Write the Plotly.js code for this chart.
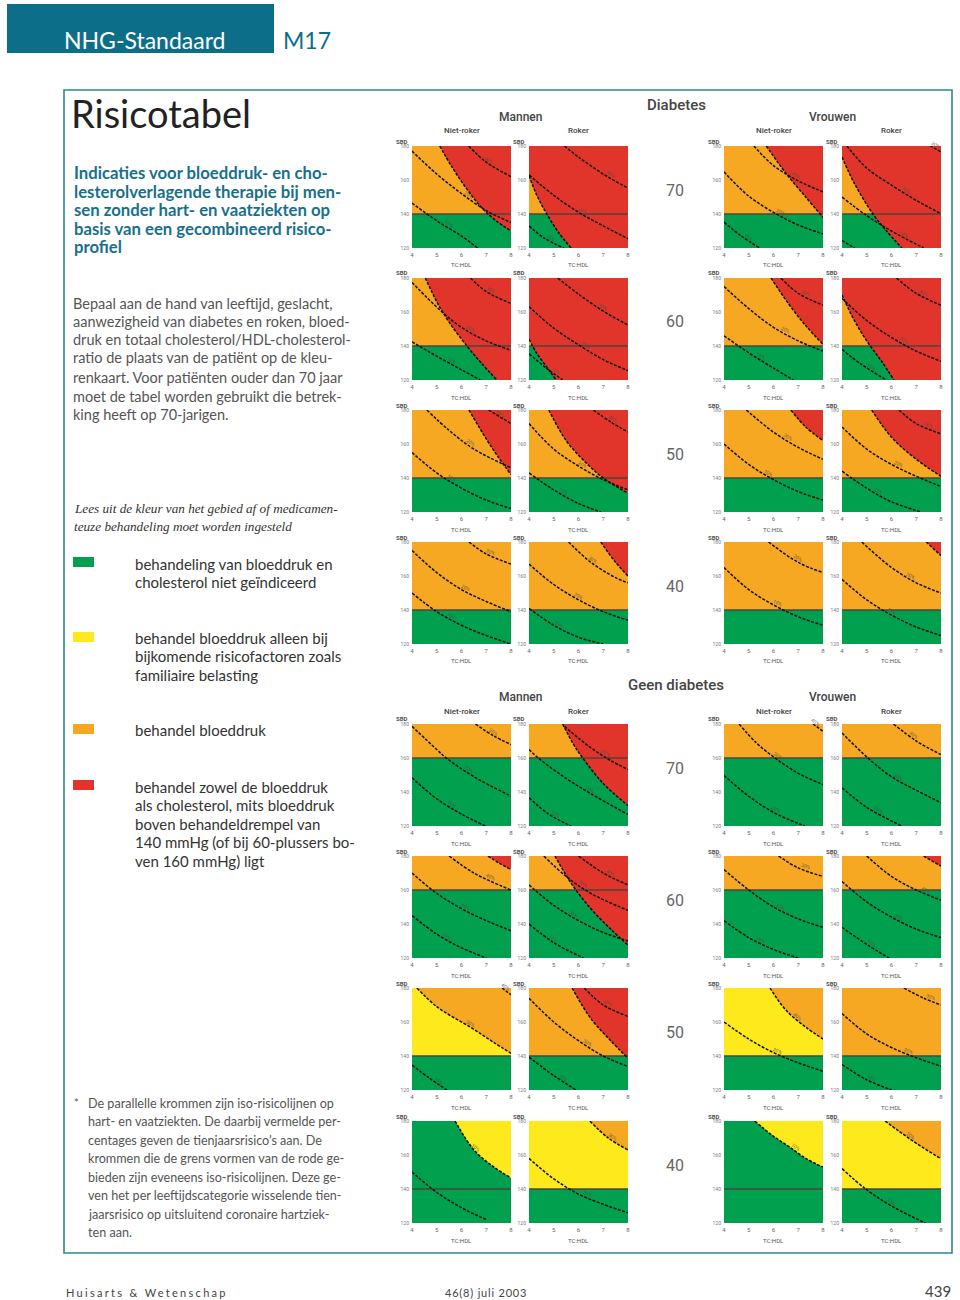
<!DOCTYPE html>
<html>
<head>
<meta charset="utf-8">
<script src="https://cdn.plot.ly/plotly-3.0.1.min.js"></script>
<style>
html,body{margin:0;padding:0;background:#fff;}
#chart{width:960px;height:1300px;}
</style>
</head>
<body>
<div id="chart"></div>
<script>
// ================= DATA =================
const X_TICKS = [4, 5, 6, 7, 8];
const Y_TICKS = [120, 140, 160, 180];
const X_RANGE = [4, 8];
const Y_RANGE = [120, 180];
const X_TITLE = 'TC:HDL';
const Y_TITLE = 'SBD';
const AGE_LABELS = ['70', '60', '50', '40', '70', '60', '50', '40'];
const GROUP_TITLES = ['Diabetes', 'Geen diabetes'];
const SEX_TITLES = ['Mannen', 'Vrouwen'];
const SMOKER_TITLES = ['Niet-roker', 'Roker', 'Niet-roker', 'Roker'];

// Per panel: thr = SBD treatment threshold, base = colour above the threshold,
// mid = [colour, line index] colour above that iso-risk line,
// red = boundary of the red area, lines = dashed iso-risk lines (t = label, lx = label x)
const D70 = [
  {thr:140, base:'orange',
   red:{x:[5.12,5.6,6.2,6.83,7.4,8], y:[180,168,155,143.5,136,130]},
   lines:[
    {t:'30%', lx:7.1, x:[6.29,7,8], y:[180,170.5,162]},
    {t:'20%', lx:6.3, x:[4,5,6,7,8], y:[177,163.5,152,142,135]},
    {t:'10%', lx:5.5, x:[4,5,6,6.65], y:[146.4,136,127,120]}]},
  {thr:140, base:'orange',
   red:{x:[4,4.35,4.7,5.2,5.7], y:[162.4,150,140.5,129,120]},
   lines:[
    {t:'40%', lx:7.3, x:[5.43,6,7,8], y:[180,173.5,163.5,155.2]},
    {t:'20%', lx:6.2, x:[4,5,6,7,8], y:[163,151,141,133,125.5]},
    {t:'10%', lx:4.9, x:[4,4.6,5.4], y:[133,126,120]}]},
  {thr:140, base:'orange',
   red:{x:[5.71,6.5,7.3,8], y:[180,164,150,138]},
   lines:[
    {t:'30%', lx:6.9, x:[5.21,6,7,8], y:[180,168.5,159.5,153]},
    {t:'20%', lx:6.3, x:[4,5,6.14,7,8], y:[164.8,150.5,139.8,133.5,128.3]},
    {t:'10%', lx:5.0, x:[4,4.7,5.44], y:[135.2,127,120]}]},
  {thr:140, base:'orange',
   red:{x:[4,4.5,5.25,5.8,6.42], y:[173.5,158,140,130,120]},
   lines:[
    {t:'30%', lx:7.8, x:[7.4,8], y:[181.5,176.5]},
    {t:'20%', lx:6.6, x:[4.2,5,6,7,8], y:[180,167,157,148,140.2]},
    {t:'10%', lx:6.5, x:[4,5,6,7.3], y:[150,139,130,120]},
    {t:'', lx:4.2, x:[4,4.5], y:[124.4,120]}]}
];
const D60 = [
  {thr:140, base:'orange',
   red:{x:[4.54,5,5.5,6.22,6.8,7.43], y:[180,166,154,140,130,120]},
   lines:[
    {t:'30%', lx:7.2, x:[6.36,7,8], y:[180,172,165]},
    {t:'20%', lx:6.4, x:[4,5.14,6,7,8], y:[177.4,161,151,143,137.4]},
    {t:'10%', lx:5.6, x:[4,5,6,6.76], y:[142.4,134,126,120]}]},
  {thr:140, base:'orange',
   red:{x:[4,4.3,4.7,5.1], y:[144,136,128,120]},
   lines:[
    {t:'40%', lx:7, x:[5.16,6,7,8], y:[180,170.5,160.5,152.3]},
    {t:'20%', lx:6.3, x:[4,5,6.1,7,8], y:[163.2,150.5,139.8,132,125.5]},
    {t:'10%', lx:5.1, x:[4,4.7,5.36], y:[135.4,127,120]}]},
  {thr:140, base:'orange',
   red:{x:[5.9,6.6,7.3,8], y:[180,165,152,141]},
   lines:[
    {t:'30%', lx:7.3, x:[6.3,7,8], y:[180,171,164]},
    {t:'20%', lx:6.5, x:[4,5,6,7,8], y:[175,162,151,143,137]},
    {t:'10%', lx:5.5, x:[4,5,6,6.8], y:[146,136,127,120]}]},
  {thr:140, base:'orange',
   red:{x:[4,4.5,5,5.6,6.1], y:[170,155,143,131,120]},
   lines:[
    {t:'40%', lx:7.3, x:[6.2,7,8], y:[180,171,164]},
    {t:'20%', lx:6.5, x:[4,5,6,7,8], y:[168,155,145,137,131]},
    {t:'10%', lx:5.2, x:[4,4.8,5.8], y:[138,129,120]}]}
];
const D50 = [
  {thr:140, base:'orange',
   red:{x:[6.3,7,7.5,8], y:[180,163,152,142]},
   lines:[
    {t:'30%', lx:7.6, x:[7.1,8], y:[180,172]},
    {t:'20%', lx:6.4, x:[4.6,5.5,6.5,8], y:[180,168,157,146]},
    {t:'10%', lx:5.6, x:[4,5,6,7,8], y:[155,143,134,127,122]}]},
  {thr:140, base:'orange',
   red:{x:[4.8,5.5,6.3,7,8], y:[180,162,149,140,131]},
   lines:[
    {t:'40%', lx:7.4, x:[6.6,7.3,8], y:[180,173,167]},
    {t:'20%', lx:6.2, x:[4,5,6,7,8], y:[172,157,147,139,133]},
    {t:'10%', lx:5.4, x:[4,5,6,6.9], y:[143,133,125,120]}]},
  {thr:140, base:'orange',
   red:{x:[6.7,7.3,8], y:[180,170,162]},
   lines:[
    {t:'20%', lx:6.6, x:[4.9,6,7,8], y:[180,167,158,151]},
    {t:'10%', lx:5.8, x:[4,5,6,7,8], y:[160,148,139,132,127]}]},
  {thr:140, base:'orange',
   red:{x:[5.2,6,7,8], y:[180,164,151,141]},
   lines:[
    {t:'30%', lx:7.5, x:[6.3,7,8], y:[180,172,166]},
    {t:'20%', lx:6.3, x:[4,5,6,7,8], y:[170,157,148,141,135]},
    {t:'10%', lx:5.5, x:[4,5,6,7.2], y:[144,134,126,120]}]}
];
const D40 = [
  {thr:140, base:'orange',
   lines:[
    {t:'30%', lx:7.2, x:[6.3,7,8], y:[180,173,167]},
    {t:'20%', lx:6.2, x:[4,5,6,7,8], y:[175,162,152,145,139]},
    {t:'10%', lx:5.6, x:[4,5,6,7,8], y:[150,139,131,125,120]}]},
  {thr:140, base:'orange',
   red:{x:[6.9,7.5,8], y:[180,168,160]},
   lines:[
    {t:'30%', lx:6.6, x:[5.6,6.5,7.5,8], y:[180,168,159,156]},
    {t:'20%', lx:6, x:[4,5,6,7,8], y:[167,155,146,139,134]},
    {t:'10%', lx:5.2, x:[4,5,6,7], y:[141,131,124,120]}]},
  {thr:140, base:'orange',
   lines:[
    {t:'20%', lx:7, x:[5.8,7,8], y:[180,168,162]},
    {t:'10%', lx:6.2, x:[4,5,6,7,8], y:[165,152,143,136,131]}]},
  {thr:140, base:'orange',
   red:{x:[7.4,8], y:[180,172]},
   lines:[
    {t:'20%', lx:6.8, x:[4.8,6,7,8], y:[180,165,156,150]},
    {t:'10%', lx:6, x:[4,5,6,7,8], y:[158,146,137,130,125]}]}
];
const G70 = [
  {thr:160, base:'orange',
   lines:[
    {t:'30%', lx:7.3, x:[6.56,7.3,8], y:[180,173,167.9]},
    {t:'20%', lx:6.3, x:[4,5,5.41,6.5,8], y:[178.6,165,159.7,149,137.6]},
    {t:'10%', lx:5.6, x:[4,5,6,6.96], y:[148.4,136,127,120]}]},
  {thr:160, base:'orange',
   red:{x:[5.36,5.8,6.17,7,8], y:[180,168,160,145,132]},
   lines:[
    {t:'30%', lx:7.1, x:[5.43,6.5,7.3,8], y:[178.6,166,158.5,153.2]},
    {t:'20%', lx:6.5, x:[4,4.4,5.5,6.5,8], y:[165,159.7,148,139,126.8]},
    {t:'10%', lx:5.1, x:[4,4.8,5.7], y:[136.6,127,120]}]},
  {thr:160, base:'orange',
   lines:[
    {t:'40%', lx:7.7, x:[7.6,8], y:[180,175.7]},
    {t:'30%', lx:6.2, x:[4.61,5.3,6.09,7,8], y:[180,169,159.7,151,144.4]},
    {t:'20%', lx:6.1, x:[4,5,6,7.26], y:[149.7,137.5,128,120]}]},
  {thr:160, base:'orange',
   lines:[
    {t:'40%', lx:6.9, x:[6.08,7,8], y:[180,170,162]},
    {t:'30%', lx:6.3, x:[4,5.07,6,7,8], y:[174.7,159.7,149,141,133.7]},
    {t:'20%', lx:5.5, x:[4,5,6.42], y:[142.5,131,120]}]}
];
const G60 = [
  {thr:160, base:'orange',
   red:{x:[7.07,7.5,8], y:[180,176,172]},
   lines:[
    {t:'40%', lx:7.2, x:[5.5,6.5,8], y:[180,170,160]},
    {t:'20%', lx:6.2, x:[4,5,6,7,8], y:[170,158,149,142,136]},
    {t:'10%', lx:5.4, x:[4,5,6,7], y:[145,134,126,120]}]},
  {thr:160, base:'orange',
   red:{x:[5.05,5.7,6.5,7.3,8], y:[180,164,149,137,127.6]},
   lines:[
    {t:'40%', lx:7.3, x:[6,7,8], y:[180,170,163]},
    {t:'30%', lx:6.2, x:[4.6,5.5,6.5,8], y:[180,168,158,148]},
    {t:'20%', lx:5.8, x:[4,5,6,7,8], y:[163,151,142,135,130]},
    {t:'10%', lx:5, x:[4,5,6.2], y:[140,129,120]}]},
  {thr:160, base:'orange',
   lines:[
    {t:'30%', lx:7.3, x:[6.2,7,8], y:[180,173,168]},
    {t:'20%', lx:6.3, x:[4,5,6,7,8], y:[172,160,150,143,138]},
    {t:'10%', lx:5.5, x:[4,5,6,7], y:[142,132,125,120]}]},
  {thr:160, base:'orange',
   red:{x:[7.3,8], y:[180,174]},
   lines:[
    {t:'40%', lx:7.4, x:[5,6,7,8], y:[180,168,160,154]},
    {t:'20%', lx:6.3, x:[4,5,6,7,8], y:[165,153,144,137,132]},
    {t:'10%', lx:5.2, x:[4,5,5.9], y:[138,128,120]}]}
];
const G50 = [
  {thr:140, base:'yellow', mid:['orange', 1],
   lines:[
    {t:'40%', lx:7.8, x:[7.64,8], y:[180,176]},
    {t:'30%', lx:6.4, x:[4.2,5,6.42,7.3,8], y:[180,169,156.4,148,141.6]},
    {t:'10%', lx:5.1, x:[4,4.7,5.41], y:[134.7,127,120]}]},
  {thr:140, base:'orange',
   red:{x:[5.74,6.5,7.3,8], y:[180,162,149,138.7]},
   lines:[
    {t:'40%', lx:7.2, x:[6.23,7,8], y:[180,170,163.3]},
    {t:'30%', lx:6.4, x:[4,5,6,7,8], y:[174,160,149,140,133.8]},
    {t:'10%', lx:5.4, x:[4,5,5.9], y:[139.3,128.5,120]}]},
  {thr:140, base:'yellow', mid:['orange', 0],
   lines:[
    {t:'40%', lx:7, x:[5.86,6.5,7.3,8], y:[180,167,157,150]},
    {t:'20%', lx:6.2, x:[4,5,6,7,8], y:[160,150,142,136,131]}]},
  {thr:140, base:'orange',
   lines:[
    {t:'30%', lx:7.6, x:[6.5,7.3,8], y:[180,174,170]},
    {t:'20%', lx:6.7, x:[4,5,6,7,8], y:[165,153,145,139,134]},
    {t:'10%', lx:5.2, x:[4,5,6], y:[135,126,120]}]}
];
const G40 = [
  {thr:140, base:'green', mid:['yellow', 0],
   lines:[
    {t:'10%', lx:6.6, x:[5.74,6.5,7.3,8], y:[180,163,153,146.5]},
    {t:'', lx:5, x:[4,5,6,7], y:[150,138,129,122]}]},
  {thr:140, base:'yellow', mid:['orange', 0],
   lines:[
    {t:'30%', lx:7.4, x:[6.46,7.2,8], y:[180,170,163]},
    {t:'20%', lx:6.4, x:[4,5,6,7,8], y:[158,146,137,131,126]}]},
  {thr:140, base:'green', mid:['yellow', 0],
   lines:[
    {t:'10%', lx:6.9, x:[5.24,6,6.65,7.3,8], y:[180,171,164.7,158,152.9]}]},
  {thr:140, base:'yellow', mid:['orange', 0],
   lines:[
    {t:'20%', lx:6.8, x:[5.74,6.3,7.02,8], y:[180,174,166.7,157.8]},
    {t:'10%', lx:6, x:[4,4.94,6,7.36], y:[152,140.2,130,120]}]}
];
const ROWS = [D70, D60, D50, D40, G70, G60, G50, G40];

// page texts
const HEADER = 'NHG-Standaard';
const HEADER_CODE = 'M17';
const TITLE = 'Risicotabel';
const SUBTITLE_LINES = [
  'Indicaties voor bloeddruk- en cho-',
  'lesterolverlagende therapie bij men-',
  'sen zonder hart- en vaatziekten op',
  'basis van een gecombineerd risico-',
  'profiel'
];
const BODY_LINES = [
  'Bepaal aan de hand van leeftijd, geslacht,',
  'aanwezigheid van diabetes en roken, bloed-',
  'druk en totaal cholesterol/HDL-cholesterol-',
  'ratio de plaats van de patiënt op de kleu-',
  'renkaart. Voor patiënten ouder dan 70 jaar',
  'moet de tabel worden gebruikt die betrek-',
  'king heeft op 70-jarigen.'
];
const INTRO_LINES = [
  'Lees uit de kleur van het gebied af of medicamen-',
  'teuze behandeling moet worden ingesteld'
];
const LEGEND_COLORS = ['green', 'yellow', 'orange', 'red'];
const LEGEND_LINES = [
  ['behandeling van bloeddruk en', 'cholesterol niet geïndiceerd'],
  ['behandel bloeddruk alleen bij', 'bijkomende risicofactoren zoals', 'familiaire belasting'],
  ['behandel bloeddruk'],
  ['behandel zowel de bloeddruk', 'als cholesterol, mits bloeddruk', 'boven behandeldrempel van', '140 mmHg (of bij 60-plussers bo-', 'ven 160 mmHg) ligt']
];
const NOTE_LINES = [
  'De parallelle krommen zijn iso-risicolijnen op',
  'hart- en vaatziekten. De daarbij vermelde per-',
  'centages geven de tienjaarsrisico\u2019s aan. De',
  'krommen die de grens vormen van de rode ge-',
  'bieden zijn eveneens iso-risicolijnen. Deze ge-',
  'ven het per leeftijdscategorie wisselende tien-',
  'jaarsrisico op uitsluitend coronaire hartziek-',
  'ten aan.'
];
const FOOTER = ['Huisarts & Wetenschap', '46(8) juli 2003', '439'];

// ================= STYLE / GEOMETRY =================
const COLORS = {green:'#00a04e', yellow:'#fde91c', orange:'#f6a823', red:'#e1352b'};
const TEAL = '#0c6e88';
const W = 960, H = 1300;
const PANEL_LEFT = [412, 529, 724, 842];
const ROW_TOP = [146, 278, 410, 542, 724, 856, 988, 1121];
const PW = 99, PH = 102;
const px = v => v / W;
const py = v => 1 - v / H;

const traces = [], annotations = [], shapes = [];
const layout = {
  width: W, height: H, margin: {l:0, r:0, t:0, b:0},
  paper_bgcolor: '#fff', plot_bgcolor: '#fff', showlegend: false,
  annotations: annotations, shapes: shapes,
  font: {family: 'Roboto, sans-serif'}
};

function yAt(c, x) {
  const n = c.x.length;
  if (x <= c.x[0]) return c.y[0];
  if (x >= c.x[n - 1]) return c.y[n - 1];
  for (let k = 0; k < n - 1; k++) {
    if (x >= c.x[k] && x <= c.x[k + 1]) {
      const f = (x - c.x[k]) / (c.x[k + 1] - c.x[k]);
      return c.y[k] + f * (c.y[k + 1] - c.y[k]);
    }
  }
  return c.y[n - 1];
}
function angleAt(c, x) {
  const n = c.x.length;
  let k = 0;
  while (k < n - 2 && x > c.x[k + 1]) k++;
  const dx = (c.x[k + 1] - c.x[k]) * PW / (X_RANGE[1] - X_RANGE[0]);
  const dy = (c.y[k] - c.y[k + 1]) * PH / (Y_RANGE[1] - Y_RANGE[0]);
  return Math.atan2(dy, dx) * 180 / Math.PI;
}
function rectTrace(y0, y1, color, xa, ya) {
  return {type:'scatter', mode:'lines', x:[X_RANGE[0], X_RANGE[1], X_RANGE[1], X_RANGE[0]],
    y:[y0, y0, y1, y1], fill:'toself', fillcolor:color, line:{width:0, color:'rgba(0,0,0,0)'},
    xaxis:xa, yaxis:ya, hoverinfo:'skip'};
}
function regionAbove(c, color, xa, ya) {
  const n = c.x.length;
  const farX = c.x[n - 1] + 3, farY = Y_RANGE[1] + 200;
  traces.push({type:'scatter', mode:'lines', x:[c.x[0], farX, farX], y:[farY, farY, c.y[n - 1]],
    line:{color:'rgba(0,0,0,0)'}, xaxis:xa, yaxis:ya, hoverinfo:'skip'});
  traces.push({type:'scatter', mode:'lines', x:c.x, y:c.y, fill:'tonexty', fillcolor:color,
    line:{color:'rgba(0,0,0,0)', shape:'spline'}, xaxis:xa, yaxis:ya, hoverinfo:'skip'});
}
function dashed(c, xa, ya) {
  traces.push({type:'scatter', mode:'lines', x:c.x, y:c.y,
    line:{color:'#111', width:1.5, dash:'3px,1.5px', shape:'spline'},
    xaxis:xa, yaxis:ya, hoverinfo:'skip'});
}
function txt(text, x, y, size, color, opt) {
  opt = opt || {};
  annotations.push({text: text, x: px(x), y: py(y), xref:'paper', yref:'paper',
    xanchor: opt.xanchor || 'left', yanchor:'middle', align: opt.xanchor === 'center' ? 'center' : (opt.xanchor === 'right' ? 'right' : 'left'),
    showarrow:false,
    font:{size:size, color:color, family: opt.family || 'Lato, sans-serif',
      weight: opt.weight || 'normal', style: opt.style || 'normal'}});
}

// ================= PANELS =================
ROWS.forEach((row, r) => {
  row.forEach((p, c) => {
    const i = r * 4 + c;
    const s = i === 0 ? '' : String(i + 1);
    const xa = 'x' + s, ya = 'y' + s;
    const left = PANEL_LEFT[c], top = ROW_TOP[r];
    layout['xaxis' + s] = {domain:[px(left), px(left + PW)], range:X_RANGE, anchor:ya,
      tickvals:X_TICKS, showgrid:false, zeroline:false, showline:false, ticks:'',
      tickfont:{size:6, color:'#666', family:'Roboto, sans-serif'}, fixedrange:true, ticklabelstandoff:2};
    layout['yaxis' + s] = {domain:[py(top + PH), py(top)], range:Y_RANGE, anchor:xa,
      tickvals:Y_TICKS, showgrid:false, zeroline:false, showline:false, ticks:'',
      tickfont:{size:5, color:'#777', family:'Roboto, sans-serif'}, fixedrange:true, ticklabelstandoff:2};

    traces.push(rectTrace(p.thr, Y_RANGE[1], COLORS[p.base], xa, ya));
    if (p.mid) regionAbove(p.lines[p.mid[1]], COLORS[p.mid[0]], xa, ya);
    traces.push(rectTrace(Y_RANGE[0], p.thr, COLORS.green, xa, ya));
    if (p.red) regionAbove(p.red, COLORS.red, xa, ya);
    traces.push({type:'scatter', mode:'lines', x:X_RANGE, y:[p.thr, p.thr],
      line:{color:'#4d4540', width:1.3}, xaxis:xa, yaxis:ya, hoverinfo:'skip'});
    if (p.red) dashed(p.red, xa, ya);
    p.lines.forEach(l => {
      dashed(l, xa, ya);
      if (l.t) {
        annotations.push({text:l.t, x:l.lx, y:yAt(l, l.lx), xref:xa, yref:ya, showarrow:false,
          yshift:4, textangle:angleAt(l, l.lx), font:{size:5, color:'rgba(85,75,65,0.85)'}});
      }
    });
    // axis titles
    txt(X_TITLE, left + PW / 2, top + PH + 17, 6, '#555', {xanchor:'center', family:'Roboto, sans-serif'});
    txt(Y_TITLE, left - 10, top - 5, 6, '#555', {xanchor:'center', family:'Roboto, sans-serif', weight:'bold'});
  });
});

// group / sex / smoker headers and age labels
const GROUP_Y = [105, 685];
GROUP_TITLES.forEach((g, k) => {
  txt(g, 676, GROUP_Y[k], 15, '#444', {xanchor:'center', family:'Roboto, sans-serif', weight:500});
  txt(SEX_TITLES[0], 520, GROUP_Y[k] + 12, 12, '#444', {xanchor:'center', family:'Roboto, sans-serif', weight:500});
  txt(SEX_TITLES[1], 832, GROUP_Y[k] + 12, 12, '#444', {xanchor:'center', family:'Roboto, sans-serif', weight:500});
  SMOKER_TITLES.forEach((t, c) => {
    txt(t, PANEL_LEFT[c] + PW / 2, GROUP_Y[k] + 26, 8, '#444', {xanchor:'center', family:'Roboto, sans-serif', weight:500});
  });
});
AGE_LABELS.forEach((a, r) => {
  txt(a, 675, ROW_TOP[r] + 44, 16, '#666', {xanchor:'center', family:'Roboto, sans-serif'});
});

// ================= PAGE =================
shapes.push({type:'rect', xref:'paper', yref:'paper', x0:px(7), x1:px(274), y0:py(53), y1:py(4),
  fillcolor:TEAL, line:{width:0}});
shapes.push({type:'rect', xref:'paper', yref:'paper', x0:px(64), x1:px(952), y0:py(1253), y1:py(90),
  fillcolor:'rgba(0,0,0,0)', line:{color:'#2f8596', width:1.6}});
txt(HEADER, 62, 40, 23, '#fff');
txt(HEADER_CODE, 281, 40, 23, TEAL);
txt(TITLE, 69, 113, 38, '#222');

const SUB_Y = [173, 192, 210, 229, 247];
SUBTITLE_LINES.forEach((l, k) => txt(l, 72, SUB_Y[k], 16.7, '#17708a', {weight:'bold'}));
const BODY_Y = [303, 322, 340, 358, 377, 396, 414];
BODY_LINES.forEach((l, k) => txt(l, 71, BODY_Y[k], 14.5, '#555'));
const INTRO_Y = [508, 526];
INTRO_LINES.forEach((l, k) => txt(l, 72, INTRO_Y[k], 13.2, '#333', {family:'Liberation Serif, serif', style:'italic'}));

const SWATCH_Y = [562, 637, 729, 785];
const LEGEND_Y0 = [564, 638, 730, 787];
LEGEND_COLORS.forEach((c, k) => {
  shapes.push({type:'rect', xref:'paper', yref:'paper', x0:px(73), x1:px(94),
    y0:py(SWATCH_Y[k] + 5), y1:py(SWATCH_Y[k] - 5), fillcolor:COLORS[c], line:{width:0}});
  LEGEND_LINES[k].forEach((l, j) => txt(l, 133, LEGEND_Y0[k] + j * 18.4, 15, '#333'));
});

txt('*', 72, 1102, 11, '#555');
NOTE_LINES.forEach((l, k) => txt(l, 86, 1103 + k * 18.5, 12.6, '#555'));

txt(FOOTER[0], 64, 1292, 11, '#444');
txt(FOOTER[1], 443, 1292, 11, '#444');
txt(FOOTER[2], 953, 1291, 15, '#444', {xanchor:'right'});

Plotly.newPlot('chart', traces, layout, {staticPlot:true, displayModeBar:false}).then(gd => {
  gd.querySelectorAll('.annotation-text').forEach(el => {
    if (el.textContent === FOOTER[0]) el.style.letterSpacing = '2.3px';
    if (el.textContent === FOOTER[1]) el.style.letterSpacing = '0.8px';
  });
});
</script>
</body>
</html>
